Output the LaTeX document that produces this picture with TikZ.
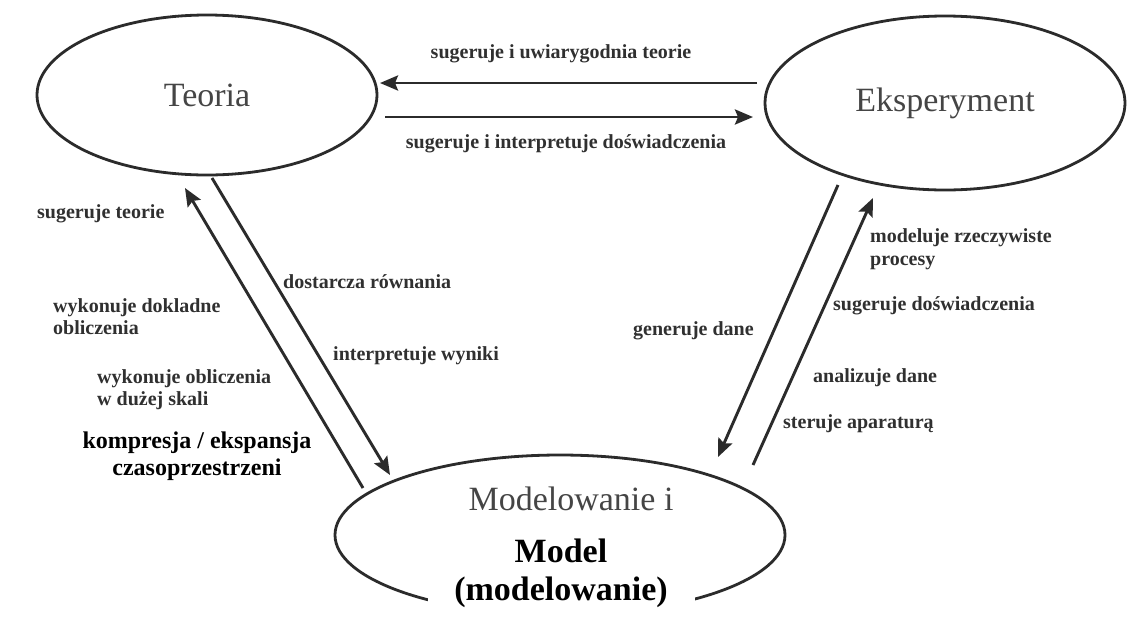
\documentclass[tikz,border=0pt]{standalone}
\usepackage{fontspec}
\setmainfont{Liberation Serif}
\usetikzlibrary{shapes.geometric,arrows.meta}
\definecolor{ink}{HTML}{2B2B2B}
\definecolor{lbl}{HTML}{303030}
\definecolor{ttl}{HTML}{454545}
\tikzset{
  blob/.style={ellipse, draw=ink, line width=2.8pt, inner sep=0pt},
  ttltext/.style={text=ttl, font=\fontsize{34}{38}\selectfont},
  arr/.style={draw=ink, line width=2.9pt, -{Stealth[length=18pt,width=15pt,inset=3pt]}},
  lab/.style={text=lbl, font=\fontsize{20}{23}\selectfont\bfseries, inner sep=0pt, align=left},
  boldlab/.style={text=black, font=\fontsize{24}{27}\selectfont\bfseries, inner sep=0pt, align=center},
  bigbold/.style={text=black, font=\fontsize{34}{38}\selectfont\bfseries, anchor=base},
}
\begin{document}
\begin{tikzpicture}[x=1pt,y=-1pt]
\useasboundingbox (0,0) rectangle (1127,638);
\fill[white] (0,0) rectangle (1127,638);

% the three fields
\node[blob, minimum width=340pt, minimum height=160pt] (teoria) at (207,95) {};
\node[ttltext] at (207,95) {Teoria};
\node[blob, minimum width=360pt, minimum height=174pt] (eksp) at (945,103) {};
\node[ttltext] at (945,103) {Eksperyment};
\node[blob, minimum width=450pt, minimum height=160pt] (model) at (560,535) {};
\node[ttltext, anchor=base] (modtxt) at (571,510) {Modelowanie i};

% white patch with the bold title
\fill[white] (428,519) rectangle (695,638);
\node[bigbold] (m1) at (561,562) {Model};
\node[bigbold] (m2) at (561,600) {(modelowanie)};

% end points of the connectors
\coordinate (te1) at (757,83);  \coordinate (te2) at (380,83);
\coordinate (te3) at (385,117); \coordinate (te4) at (753,117);
\coordinate (tm1) at (212,178); \coordinate (tm2) at (390,475);
\coordinate (mt1) at (363,488); \coordinate (mt2) at (185,188);
\coordinate (em1) at (838,185); \coordinate (em2) at (718,457);
\coordinate (me1) at (753,465); \coordinate (me2) at (873,198);

\draw[arr] (te1) -- (te2);
\draw[arr] (te3) -- (te4);
\draw[arr] (tm1) -- (tm2);
\draw[arr] (mt1) -- (mt2);
\draw[arr] (em1) -- (em2);
\draw[arr] (me1) -- (me2);

% labels
\node[lab, anchor=base] at (561,58) {sugeruje i uwiarygodnia teorie};
\node[lab, anchor=base] at (566,148) {sugeruje i interpretuje doświadczenia};
\node[lab, anchor=base west] at (37,218) {sugeruje teorie};
\node[lab, anchor=base west] at (283,288) {dostarcza równania};
\node[lab, anchor=base west] at (53,312) {wykonuje dokladne};
\node[lab, anchor=base west] at (53,334) {obliczenia};
\node[lab, anchor=base west] at (333,360) {interpretuje wyniki};
\node[lab, anchor=base west] at (97,383) {wykonuje obliczenia};
\node[lab, anchor=base west] at (97,405) {w dużej skali};
\node[boldlab, anchor=base] at (197,448) {kompresja / ekspansja};
\node[boldlab, anchor=base] at (197,475) {czasoprzestrzeni};
\node[lab, anchor=base west] at (870,242) {modeluje rzeczywiste};
\node[lab, anchor=base west] at (870,265) {procesy};
\node[lab, anchor=base west] at (833,310) {sugeruje doświadczenia};
\node[lab, anchor=base west] at (633,335) {generuje dane};
\node[lab, anchor=base west] at (813,382) {analizuje dane};
\node[lab, anchor=base west] at (783,428) {steruje aparaturą};
\end{tikzpicture}
\end{document}
